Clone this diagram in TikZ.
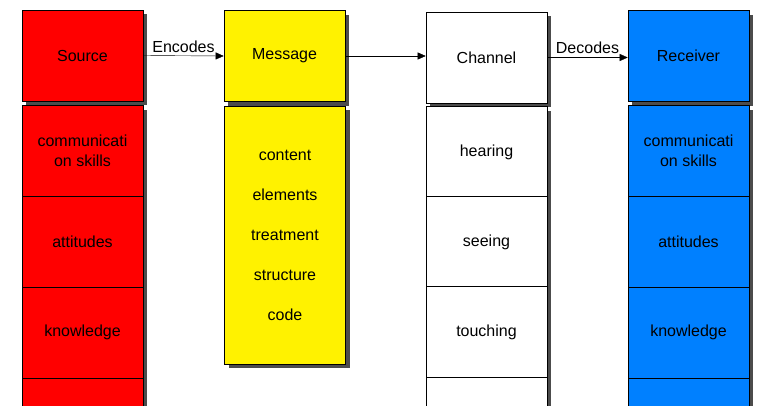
\documentclass[tikz,border=0pt]{standalone}
\usepackage{fontspec}
\setmainfont{Liberation Sans}
\usetikzlibrary{arrows.meta,shadows}
\begin{document}
\begin{tikzpicture}[x=1pt,y=-1pt,
    box/.style={draw=black, semithick, minimum width=121pt, minimum height=91pt,
        inner sep=2pt, align=center, font=\fontsize{16}{20}\selectfont,
        drop shadow={shadow xshift=4pt, shadow yshift=-4pt, fill=black!70, opacity=1}},
    flow/.style={-{Triangle[length=8pt,width=7pt]}, thin},
    lbl/.style={font=\fontsize{16}{18}\selectfont, above}]
\useasboundingbox (0,0) rectangle (771,405);
\clip (0,0) rectangle (771,405);
% HEADERS
\node[box, fill=red] (src) at (82.5,55.5) {Source};
\node[box, fill=yellow] (msg) at (284.5,56) {Message};
\node[box, fill=white] (chn) at (486.5,57.5) {Channel};
\node[box, fill={rgb,255:red,0;green,128;blue,255}] (rcv) at (688.5,56) {Receiver};
% ARROWS
\draw[flow] (src.east) -- node[lbl] {Encodes} (msg.west);
\draw[flow] (msg.east) -- (chn.west |- msg.east);
\draw[flow] (chn.east) -- node[lbl] {Decodes} (rcv.west |- chn.east);
% SOURCE COLUMN
\node[box, fill=red] (s1) at (82.5,151) {communicati\\on skills};
\node[box, fill=red] (s2) at (82.5,241.5) {attitudes};
\node[box, fill=red] (s3) at (82.5,332.5) {knowledge};
\node[box, fill=red] (s4) at (82.5,423.5) {};
% MESSAGE COLUMN
\node[box, fill=yellow, minimum height=258pt, font=\fontsize{16}{40}\selectfont] (m1) at (285,235)
    {content\\elements\\treatment\\structure\\code};
% CHANNEL COLUMN
\node[box, fill=white] (c1) at (486.5,152) {hearing};
\node[box, fill=white] (c2) at (486.5,242) {seeing};
\node[box, fill=white] (c3) at (486.5,332) {touching};
\node[box, fill=white] (c4) at (486.5,422.5) {};
% RECEIVER COLUMN
\node[box, fill={rgb,255:red,0;green,128;blue,255}] (r1) at (688.5,151) {communicati\\on skills};
\node[box, fill={rgb,255:red,0;green,128;blue,255}] (r2) at (688.5,241.5) {attitudes};
\node[box, fill={rgb,255:red,0;green,128;blue,255}] (r3) at (688.5,332.5) {knowledge};
\node[box, fill={rgb,255:red,0;green,128;blue,255}] (r4) at (688.5,423.5) {};
\end{tikzpicture}
\end{document}
